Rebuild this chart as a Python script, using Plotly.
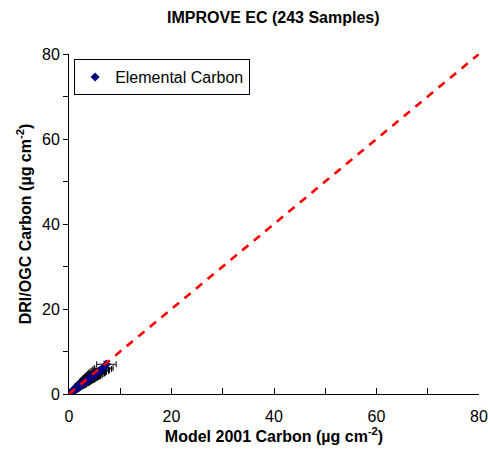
import plotly.graph_objects as go

model_c = [0.05, 0.1, 0.15, 0.2, 0.25, 0.3, 0.35, 0.4, 0.45, 0.5, 0.55, 0.6, 0.65, 0.7, 0.75, 0.8,
           0.85, 0.9, 0.95, 1.0, 1.05, 1.1, 1.15, 1.2, 1.3, 1.35, 1.4, 1.5, 1.55, 1.6, 1.7, 1.75,
           1.8, 1.9, 2.0, 2.05, 2.1, 2.2, 2.3, 2.35, 2.4, 2.5, 2.6, 2.7, 2.8, 2.9, 3.0, 3.1,
           3.2, 3.3, 3.4, 3.5, 3.6, 3.7, 3.8, 3.9, 4.0, 4.1, 4.2, 4.4, 4.5, 4.6, 4.8, 5.0,
           5.1, 5.3, 5.5, 5.7, 6.0, 6.2, 6.5, 6.8, 7.3, 0.3, 0.6, 0.9, 1.2, 1.5, 1.8, 2.2,
           2.6, 3.0, 3.4, 3.8, 4.3, 0.4, 0.8, 1.3, 1.7, 2.1, 2.5, 2.9, 3.3, 3.7, 4.7, 5.4]
dri_c = [0.05, 0.1, 0.12, 0.2, 0.22, 0.3, 0.3, 0.38, 0.4, 0.45, 0.5, 0.55, 0.6, 0.62, 0.7, 0.72,
         0.8, 0.82, 0.9, 0.9, 1.0, 1.0, 1.05, 1.1, 1.2, 1.25, 1.3, 1.35, 1.45, 1.5, 1.55, 1.6,
         1.7, 1.75, 1.85, 1.9, 1.95, 2.0, 2.1, 2.2, 2.2, 2.3, 2.4, 2.5, 2.55, 2.7, 2.75, 2.9,
         2.95, 3.0, 3.1, 3.2, 3.3, 3.35, 3.5, 3.6, 3.7, 3.75, 3.85, 4.0, 4.1, 4.2, 4.4, 4.5,
         4.7, 4.8, 5.0, 5.2, 5.4, 5.6, 5.9, 6.1, 7.0, 0.35, 0.5, 0.95, 1.0, 1.3, 1.9, 1.9,
         2.3, 2.6, 3.2, 3.4, 3.9, 0.3, 0.75, 1.1, 1.5, 2.0, 2.15, 2.6, 3.0, 3.3, 4.2, 4.9]
model_err = [0.1, 0.1, 0.1, 0.15, 0.15, 0.15, 0.2, 0.2, 0.2, 0.2, 0.25, 0.25, 0.25, 0.3, 0.3, 0.3,
             0.3, 0.35, 0.35, 0.35, 0.4, 0.4, 0.4, 0.4, 0.45, 0.45, 0.5, 0.5, 0.5, 0.55, 0.55, 0.6,
             0.6, 0.6, 0.65, 0.65, 0.7, 0.7, 0.75, 0.75, 0.8, 0.8, 0.8, 0.85, 0.9, 0.9, 0.95, 1.0,
             1.0, 1.0, 1.05, 1.1, 1.1, 1.15, 1.2, 1.2, 1.25, 1.25, 1.3, 1.35, 1.4, 1.4, 1.45, 1.5,
             1.5, 1.55, 1.6, 1.6, 1.7, 1.7, 1.8, 1.8, 1.9, 0.15, 0.25, 0.35, 0.4, 0.5, 0.6, 0.7,
             0.8, 0.95, 1.05, 1.2, 1.3, 0.2, 0.3, 0.45, 0.55, 0.7, 0.8, 0.9, 1.0, 1.15, 1.45, 1.55]
dri_err = [0.05, 0.05, 0.05, 0.05, 0.05, 0.05, 0.05, 0.05, 0.05, 0.05, 0.1, 0.1, 0.1, 0.1, 0.1, 0.1,
           0.1, 0.1, 0.1, 0.1, 0.1, 0.1, 0.1, 0.1, 0.15, 0.15, 0.15, 0.15, 0.15, 0.15, 0.15, 0.15,
           0.2, 0.2, 0.2, 0.2, 0.2, 0.2, 0.2, 0.2, 0.25, 0.25, 0.25, 0.25, 0.25, 0.25, 0.3, 0.3,
           0.3, 0.3, 0.3, 0.3, 0.35, 0.35, 0.35, 0.35, 0.35, 0.4, 0.4, 0.4, 0.4, 0.4, 0.45, 0.45,
           0.45, 0.5, 0.5, 0.5, 0.55, 0.55, 0.6, 0.6, 0.7, 0.05, 0.05, 0.1, 0.1, 0.15, 0.2, 0.2,
           0.25, 0.3, 0.3, 0.35, 0.4, 0.05, 0.1, 0.1, 0.15, 0.2, 0.2, 0.25, 0.3, 0.3, 0.45, 0.5]

one_to_one = [0, 80]
tick_vals = [0, 20, 40, 60, 80]
minor_vals = [10, 30, 50, 70]

fig = go.Figure()
fig.add_trace(go.Scatter(
    x=model_c, y=dri_c, mode="markers", name="Elemental Carbon",
    marker=dict(symbol="diamond", size=7, color="#000080"),
    error_x=dict(type="data", array=model_err, color="black", thickness=1, width=3),
    error_y=dict(type="data", array=dri_err, color="black", thickness=1, width=3)))
fig.add_trace(go.Scatter(
    x=one_to_one, y=one_to_one, mode="lines",
    line=dict(color="#FF0000", width=2.6, dash="8px,7px"),
    showlegend=False, hoverinfo="skip"))

font = "Liberation Sans, Arial, sans-serif"
fig.update_layout(
    width=488, height=452,
    margin=dict(l=69, r=9, t=54, b=58),
    paper_bgcolor="white", plot_bgcolor="white",
    font=dict(family=font, size=16, color="black"),
    title=dict(text="<b>IMPROVE EC (243 Samples)</b>", x=0.56, xanchor="center",
               y=0.962, yanchor="middle", font=dict(size=16)),
    legend=dict(x=0.0125, y=0.985, xanchor="left", yanchor="top",
                bordercolor="black", borderwidth=1, bgcolor="white",
                font=dict(size=16), itemwidth=30, tracegroupgap=0),
    showlegend=True,
)
fig.update_xaxes(
    range=[0, 80], tickvals=tick_vals, showgrid=False, zeroline=False, automargin=False,
    showline=True, linecolor="black", linewidth=1,
    ticks="inside", ticklen=6, tickcolor="black", ticklabelstandoff=8,
    minor=dict(tickvals=minor_vals, ticks="inside", ticklen=6, tickcolor="black"),
    title=dict(text="<b>Model 2001 Carbon (µg cm<sup>-2</sup>)</b>", font=dict(size=16), standoff=6),
)
fig.update_yaxes(
    range=[0, 80], tickvals=tick_vals, showgrid=False, zeroline=False, automargin=False,
    showline=True, linecolor="black", linewidth=1,
    ticks="outside", ticklen=5, tickcolor="black",
    minor=dict(tickvals=minor_vals, ticks="outside", ticklen=5, tickcolor="black"),
    title=dict(text="<b>DRI/OGC Carbon (µg cm<sup>-2</sup>)</b>", font=dict(size=16), standoff=6),
)
fig.write_html("out.html")
